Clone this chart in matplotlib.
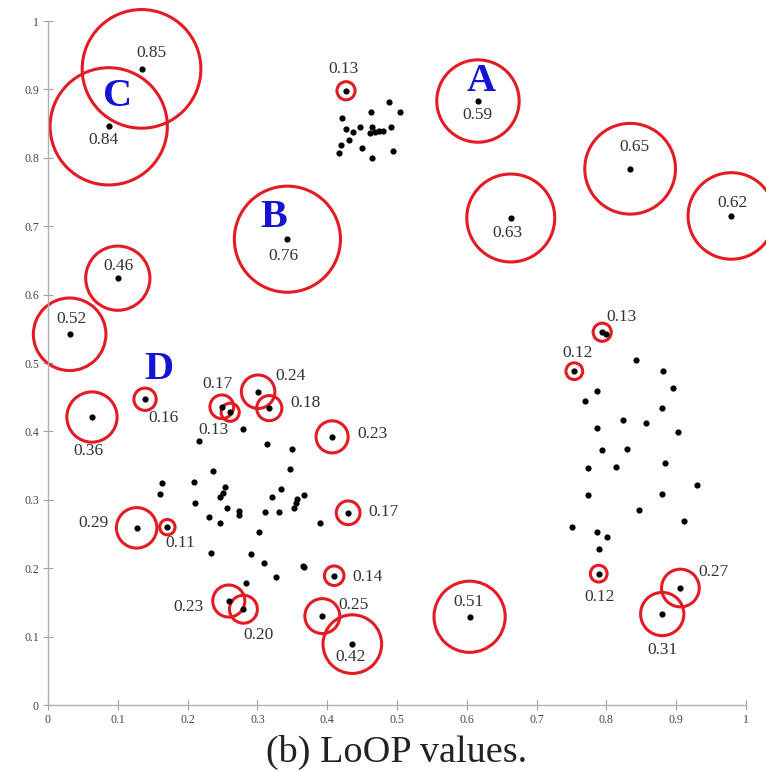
import numpy as np
import matplotlib
matplotlib.use('Agg')
import matplotlib.pyplot as plt
from matplotlib.patches import Ellipse

# plain points (no outlier circle)
top_x = [0.489, 0.504, 0.463, 0.421, 0.427, 0.437, 0.447, 0.464, 0.461, 0.469,
         0.474, 0.480, 0.491, 0.431, 0.420, 0.417, 0.450, 0.494, 0.464]
top_y = [0.882, 0.867, 0.867, 0.858, 0.842, 0.838, 0.845, 0.845, 0.836, 0.838,
         0.839, 0.839, 0.845, 0.826, 0.819, 0.807, 0.814, 0.810, 0.799]

left_x = [0.280, 0.217, 0.314, 0.350, 0.237, 0.347, 0.163, 0.209, 0.254, 0.250,
          0.247, 0.160, 0.211, 0.256, 0.274, 0.273, 0.231, 0.246, 0.311, 0.331,
          0.321, 0.334, 0.357, 0.356, 0.353, 0.367, 0.390, 0.303, 0.234, 0.291,
          0.310, 0.366, 0.367, 0.327, 0.284]
left_y = [0.404, 0.386, 0.382, 0.374, 0.342, 0.345, 0.325, 0.326, 0.319, 0.310,
          0.304, 0.308, 0.295, 0.288, 0.284, 0.278, 0.275, 0.266, 0.282, 0.282,
          0.304, 0.316, 0.301, 0.295, 0.288, 0.307, 0.266, 0.253, 0.222, 0.221,
          0.208, 0.203, 0.202, 0.187, 0.178]

right_x = [0.843, 0.881, 0.896, 0.787, 0.770, 0.880, 0.824, 0.857, 0.786, 0.903,
           0.794, 0.829, 0.773, 0.814, 0.884, 0.930, 0.773, 0.879, 0.846, 0.911,
           0.750, 0.787, 0.801, 0.789, 0.799]
right_y = [0.504, 0.488, 0.463, 0.459, 0.444, 0.434, 0.417, 0.412, 0.405, 0.399,
           0.373, 0.374, 0.346, 0.348, 0.354, 0.322, 0.307, 0.308, 0.285, 0.269,
           0.260, 0.253, 0.246, 0.228, 0.542]

# points with LoOP value
out_x = [0.134, 0.087, 0.427, 0.343, 0.100, 0.031, 0.616, 0.834, 0.663, 0.979,
         0.794, 0.754, 0.789, 0.906, 0.880, 0.604, 0.063, 0.139, 0.249, 0.261,
         0.301, 0.317, 0.407, 0.430, 0.127, 0.171, 0.410, 0.259, 0.280, 0.393,
         0.436]
out_y = [0.930, 0.846, 0.898, 0.681, 0.624, 0.542, 0.883, 0.784, 0.712, 0.715,
         0.545, 0.488, 0.192, 0.171, 0.133, 0.129, 0.421, 0.447, 0.436, 0.428,
         0.458, 0.434, 0.392, 0.281, 0.259, 0.260, 0.189, 0.152, 0.140, 0.130,
         0.089]
loop = [0.85, 0.84, 0.13, 0.76, 0.46, 0.52, 0.59, 0.65, 0.63, 0.62,
        0.13, 0.12, 0.12, 0.27, 0.31, 0.51, 0.36, 0.16, 0.17, 0.13,
        0.24, 0.18, 0.23, 0.17, 0.29, 0.11, 0.14, 0.23, 0.20, 0.25,
        0.42]

# big letters
letters = ['A', 'B', 'C', 'D']
letter_x = [0.621, 0.323, 0.100, 0.159]
letter_y = [0.911, 0.712, 0.889, 0.490]

# label placement (pixel offsets from the point)
label_off = [(10, 16), (-5, -14), (-3, 22), (-4, -17), (1, 12), (2, 15), (-1, -14),
             (4, 22), (-3, -15), (1, 13), (19, 15), (3, 18), (1, -23), (33, 16),
             (0, -36), (-1, 15), (-4, -34), (18, -19), (-4, 23), (-17, -18),
             (32, 16), (36, 5), (40, 3), (35, 1), (-43, 5), (13, -16), (33, -1),
             (-40, -6), (15, -26), (31, 11), (-2, -13)]

W, H = 766, 772
fig = plt.figure(figsize=(W / 100, H / 100), dpi=100)
ax = fig.add_axes([48 / W, 1 - 705 / H, 698 / W, 684 / H])
ax.set_xlim(0, 1)
ax.set_ylim(0, 1)

serif = 'Liberation Serif'
red = '#e31b23'

# circles: radius = LoOP / 10 (x units), keep them round on screen
ratio = 698 / 684
for x, y, v in zip(out_x, out_y, loop):
    r = v * 0.1
    ax.add_patch(Ellipse((x, y), 2 * r, 2 * r * ratio, fill=False,
                         edgecolor=red, lw=2.2, zorder=2, clip_on=False))

allx = top_x + left_x + right_x + out_x
ally = top_y + left_y + right_y + out_y
ax.scatter(allx, ally, s=20, color='black', zorder=3, linewidths=0, clip_on=False)

for x, y, v, off in zip(out_x, out_y, loop, label_off):
    ax.annotate('%.2f' % v, (x, y), xytext=off, textcoords='offset pixels',
                ha='center', va='center', fontsize=12.5, family=serif,
                color='#333333', zorder=4)

for t, x, y in zip(letters, letter_x, letter_y):
    ax.text(x, y, t, ha='center', va='center', fontsize=29, family=serif,
            fontweight='bold', color='#1414d2', zorder=5)

ticks = np.arange(0, 1.01, 0.1)
tlabels = ['0'] + ['%.1f' % t for t in ticks[1:-1]] + ['1']
ax.set_xticks(ticks)
ax.set_xticklabels(tlabels)
ax.set_yticks(ticks)
ax.set_yticklabels(tlabels)
for s in ['top', 'right']:
    ax.spines[s].set_visible(False)
for s in ['left', 'bottom']:
    ax.spines[s].set_color('#b0b0b0')
    ax.spines[s].set_linewidth(1)
ax.tick_params(direction='inout', length=7, width=0.8, color='#a0a0a0',
               labelsize=8.5, labelcolor='#444444', pad=3)
for lab in ax.get_xticklabels() + ax.get_yticklabels():
    lab.set_family(serif)

fig.text(397 / W, 1 - 752 / H, '(b) LoOP values.', ha='center', va='center',
         fontsize=27.5, family=serif, color='#222222')

fig.savefig('out.png', dpi=100)
